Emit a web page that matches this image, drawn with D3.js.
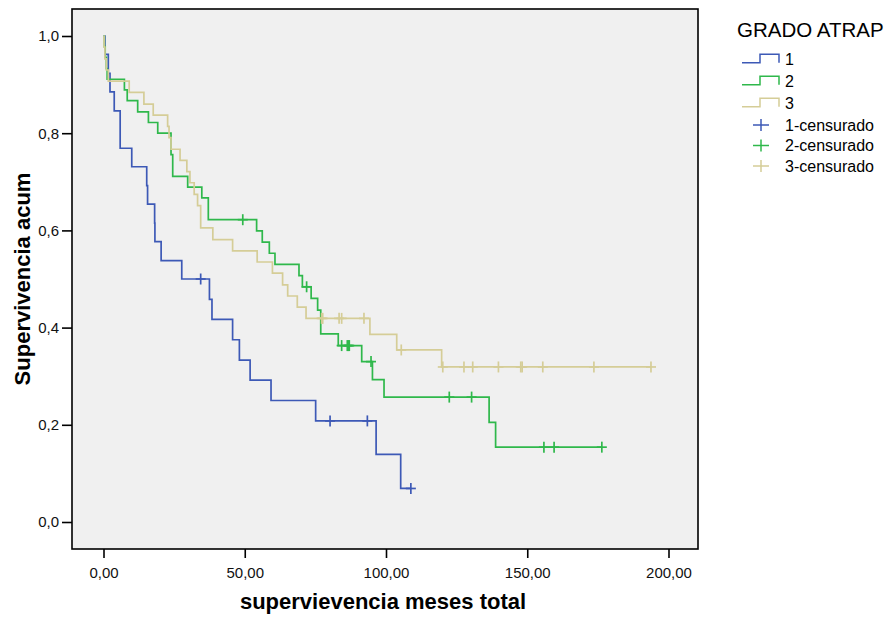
<!DOCTYPE html>
<html>
<head>
<meta charset="utf-8">
<script src="https://cdn.jsdelivr.net/npm/d3@7"></script>
<style>
  body { margin: 0; background: #fff; }
  text { font-family: "Liberation Sans", Arial, sans-serif; }
</style>
</head>
<body>
<div id="chart"></div>
<script>
// Kaplan-Meier steps: time (months) and cumulative survival
const g1Times = [0, 0.5, 1.7, 2.3, 3.8, 5.9, 10.0, 15.3, 15.6, 18.1, 18.2, 20.4, 27.7, 37.5, 38.4, 45.7, 48.1, 51.9, 59.3, 75.1, 96.5, 105.2];
const g1Surv  = [1, 0.962, 0.923, 0.885, 0.846, 0.769, 0.731, 0.692, 0.654, 0.615, 0.577, 0.538, 0.500, 0.458, 0.417, 0.375, 0.333, 0.292, 0.250, 0.208, 0.139, 0.069];
const g1Censored = [34.4, 80.2, 93.4, 108.8];

const g2Times = [0, 0.3, 0.6, 1.0, 1.3, 7.4, 8.4, 12.1, 15.9, 19.2, 23.9, 24.5, 29.8, 34.8, 37.1, 54.2, 56.2, 58.7, 60.7, 69.2, 70.4, 73.5, 75.8, 76.9, 83.1, 91.4, 95.2, 99.3, 136.5, 138.8];
const g2Surv  = [1, 0.978, 0.956, 0.933, 0.911, 0.889, 0.867, 0.844, 0.822, 0.800, 0.756, 0.711, 0.689, 0.667, 0.622, 0.599, 0.576, 0.553, 0.530, 0.507, 0.484, 0.460, 0.436, 0.387, 0.363, 0.330, 0.293, 0.257, 0.205, 0.154];
const g2Censored = [49.3, 71.9, 84.3, 86.3, 86.7, 87.0, 94.7, 122.4, 130.3, 155.9, 159.5, 176.4];

const g3Times = [0, 0.2, 0.5, 1.0, 1.7, 9.1, 14.3, 17.6, 22.7, 23.2, 23.9, 27.1, 29.5, 30.6, 32.1, 33.3, 34.4, 38.7, 45.7, 54.4, 59.8, 63.4, 65.2, 68.6, 71.7, 94.3, 103.8, 119.7];
const g3Surv  = [1, 0.977, 0.953, 0.930, 0.907, 0.884, 0.860, 0.837, 0.814, 0.791, 0.767, 0.744, 0.721, 0.698, 0.674, 0.651, 0.605, 0.581, 0.558, 0.535, 0.512, 0.488, 0.465, 0.442, 0.419, 0.386, 0.354, 0.319];
const g3Censored = [77.2, 77.6, 83.4, 84.3, 92.2, 105.4, 120.1, 127.6, 130.7, 139.8, 147.7, 148.2, 155.5, 173.6, 193.8];

const groupNames = ["1", "2", "3"];
const censorNames = ["1-censurado", "2-censurado", "3-censurado"];
const xTicks = [0, 50, 100, 150, 200];
const yTicks = [0, 0.2, 0.4, 0.6, 0.8, 1.0];

const colors = ["#3d59b6", "#2fb84b", "#d5cd97"];

const groups = [
  { times: g1Times, surv: g1Surv, cens: g1Censored },
  { times: g2Times, surv: g2Surv, cens: g2Censored },
  { times: g3Times, surv: g3Surv, cens: g3Censored }
];

const width = 888;
const height = 619;
const frame = { left: 72, top: 9, right: 698, bottom: 549 };

const svg = d3.select("#chart")
  .append("svg")
  .attr("width", width)
  .attr("height", height);

const x = d3.scaleLinear()
  .domain([0, 200])
  .range([103.5, 668.5]);

const y = d3.scaleLinear()
  .domain([0, 1])
  .range([522, 36]);

// plot background + frame
svg.append("rect")
  .attr("x", frame.left)
  .attr("y", frame.top)
  .attr("width", frame.right - frame.left)
  .attr("height", frame.bottom - frame.top)
  .attr("fill", "#f0f0f0")
  .attr("stroke", "#000")
  .attr("stroke-width", 1.6);

const comma = d => d3.format(".1f")(d).replace(".", ",");
const comma2 = d => d3.format(".2f")(d).replace(".", ",");

// Y axis
const yAxis = svg.append("g")
  .attr("transform", `translate(${frame.left},0)`)
  .call(d3.axisLeft(y).tickValues(yTicks).tickSize(10).tickPadding(3).tickFormat(comma));
yAxis.select(".domain").remove();
yAxis.selectAll("line").attr("stroke-width", 1.6);
yAxis.selectAll("text")
  .style("font-size", "15px")
  .style("font-family", "'Liberation Sans', Arial, sans-serif")
  .attr("fill", "#111");

// X axis
const xAxis = svg.append("g")
  .attr("transform", `translate(0,${frame.bottom})`)
  .call(d3.axisBottom(x).tickValues(xTicks).tickSize(9).tickPadding(9).tickFormat(comma2));
xAxis.select(".domain").remove();
xAxis.selectAll("line").attr("stroke-width", 1.6);
xAxis.selectAll("text")
  .style("font-size", "15px")
  .style("font-family", "'Liberation Sans', Arial, sans-serif")
  .attr("fill", "#111");

// Axis labels
svg.append("text")
  .attr("x", 383)
  .attr("y", 609)
  .attr("text-anchor", "middle")
  .style("font-size", "22px")
  .style("font-weight", "bold")
  .text("supervievencia meses total");

svg.append("text")
  .attr("transform", "rotate(-90)")
  .attr("x", -279)
  .attr("y", 30)
  .attr("text-anchor", "middle")
  .style("font-size", "22px")
  .style("font-weight", "bold")
  .text("Supervivencia acum");

// Survival curves
const line = d3.line()
  .x(d => x(d[0]))
  .y(d => y(d[1]))
  .curve(d3.curveStepAfter);

function survAt(g, t) {
  let s = g.surv[0];
  g.times.forEach((tt, i) => { if (tt <= t) s = g.surv[i]; });
  return s;
}

groups.forEach((g, i) => {
  const pts = g.times.map((t, k) => [t, g.surv[k]]);
  const tEnd = d3.max([d3.max(g.times), d3.max(g.cens)]);
  pts.push([tEnd, g.surv[g.surv.length - 1]]);

  svg.append("path")
    .datum(pts)
    .attr("fill", "none")
    .attr("stroke", colors[i])
    .attr("stroke-width", 1.7)
    .attr("d", line);

  // censor marks
  const marks = svg.append("g");
  g.cens.forEach(t => {
    const cx = x(t), cy = y(survAt(g, t));
    marks.append("line")
      .attr("x1", cx).attr("x2", cx)
      .attr("y1", cy - 5.5).attr("y2", cy + 5.5)
      .attr("stroke", colors[i]).attr("stroke-width", 1.7);
    marks.append("line")
      .attr("x1", cx - 5).attr("x2", cx + 5)
      .attr("y1", cy).attr("y2", cy)
      .attr("stroke", colors[i]).attr("stroke-width", 1.7);
  });
});

// Legend
const legend = svg.append("g");
legend.append("text")
  .attr("x", 737)
  .attr("y", 37)
  .style("font-size", "20.5px")
  .text("GRADO ATRAP");

groupNames.forEach((name, i) => {
  const low = 62.7 + i * 22, high = low - 8.4;
  legend.append("path")
    .attr("d", `M742,${low}H760V${high}H779V${low}`)
    .attr("fill", "none")
    .attr("stroke", colors[i])
    .attr("stroke-width", 1.5);
  legend.append("text")
    .attr("x", 785)
    .attr("y", low + 2.5)
    .style("font-size", "16px")
    .text(name);
});

censorNames.forEach((name, i) => {
  const cy = 125 + i * 20.5;
  legend.append("line")
    .attr("x1", 761).attr("x2", 761)
    .attr("y1", cy - 6).attr("y2", cy + 6)
    .attr("stroke", colors[i]).attr("stroke-width", 1.5);
  legend.append("line")
    .attr("x1", 753).attr("x2", 769)
    .attr("y1", cy).attr("y2", cy)
    .attr("stroke", colors[i]).attr("stroke-width", 1.5);
  legend.append("text")
    .attr("x", 785)
    .attr("y", cy + 5.5)
    .style("font-size", "16px")
    .text(name);
});
</script>
</body>
</html>
